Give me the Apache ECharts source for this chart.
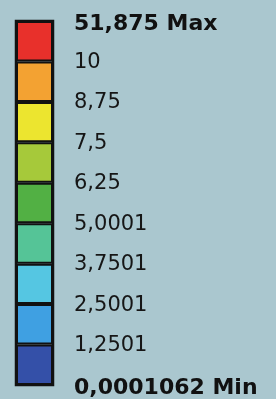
<!DOCTYPE html>
<html><head><meta charset="utf-8">
<script src="https://cdn.jsdelivr.net/npm/echarts@6/dist/echarts.min.js"></script>
<style>html,body{margin:0;padding:0;background:#aac7cf;}#c{width:276px;height:399px;}</style>
</head><body><div id="c"></div>
<script>
// band boundaries (bottom to top), as labelled in the legend
const tickLabels = ['0,0001062', '1,2501', '2,5001', '3,7501', '5,0001', '6,25', '7,5', '8,75', '10', '51,875'];
const bandNames = ['0–1,25', '1,25–2,5', '2,5–3,75', '3,75–5', '5–6,25', '6,25–7,5', '7,5–8,75', '8,75–10', '10–51,875'];
const bandHeights = [1, 1, 1, 1, 1, 1, 1, 1, 1];
const bandColors = ['#3450a8', '#3fa0e2', '#55c6e2', '#55c497', '#52b044', '#a6c93a', '#ece52f', '#f3a232', '#e8302b'];

const chart = echarts.init(document.getElementById('c'), null, {renderer: 'canvas'});
const series = bandHeights.map((h, i) => ({
  name: bandNames[i], type: 'bar', stack: 'legend', data: [h],
  barWidth: '100%',
  itemStyle: {color: bandColors[i], borderColor: '#111', borderWidth: 2}
}));
chart.setOption({
  backgroundColor: '#aac7cf',
  animation: false,
  grid: {left: 16, right: 223, top: 21, bottom: 13, show: true, borderColor: '#111', borderWidth: 2.5, backgroundColor: 'transparent'},
  xAxis: {type: 'category', data: ['legend'], show: false},
  yAxis: {
    type: 'value', min: 0, max: 9, interval: 1, position: 'right',
    axisLine: {show: false}, axisTick: {show: false}, splitLine: {show: false},
    axisLabel: {
      margin: 21, align: 'left', color: '#161616',
      fontFamily: 'DejaVu Sans', fontSize: 21,
      formatter: (v) => {
        const i = Math.round(v);
        if (i === tickLabels.length - 1) return '{t|' + tickLabels[i] + ' Max}';
        if (i === 0) return '{m|' + tickLabels[i] + ' Min}';
        return '{r|' + tickLabels[i] + '}';
      },
      rich: {
        t: {fontFamily: 'DejaVu Sans', fontWeight: 'bold', fontSize: 22, color: '#111', padding: [7, 0, 0, 0]},
        m: {fontFamily: 'DejaVu Sans', fontWeight: 'bold', fontSize: 22, color: '#111', padding: [6, 0, 0, 0]},
        r: {fontFamily: 'DejaVu Sans', fontSize: 21, color: '#161616', padding: [2, 0, 0, 0]}
      }
    }
  },
  series: series
});
</script></body></html>
